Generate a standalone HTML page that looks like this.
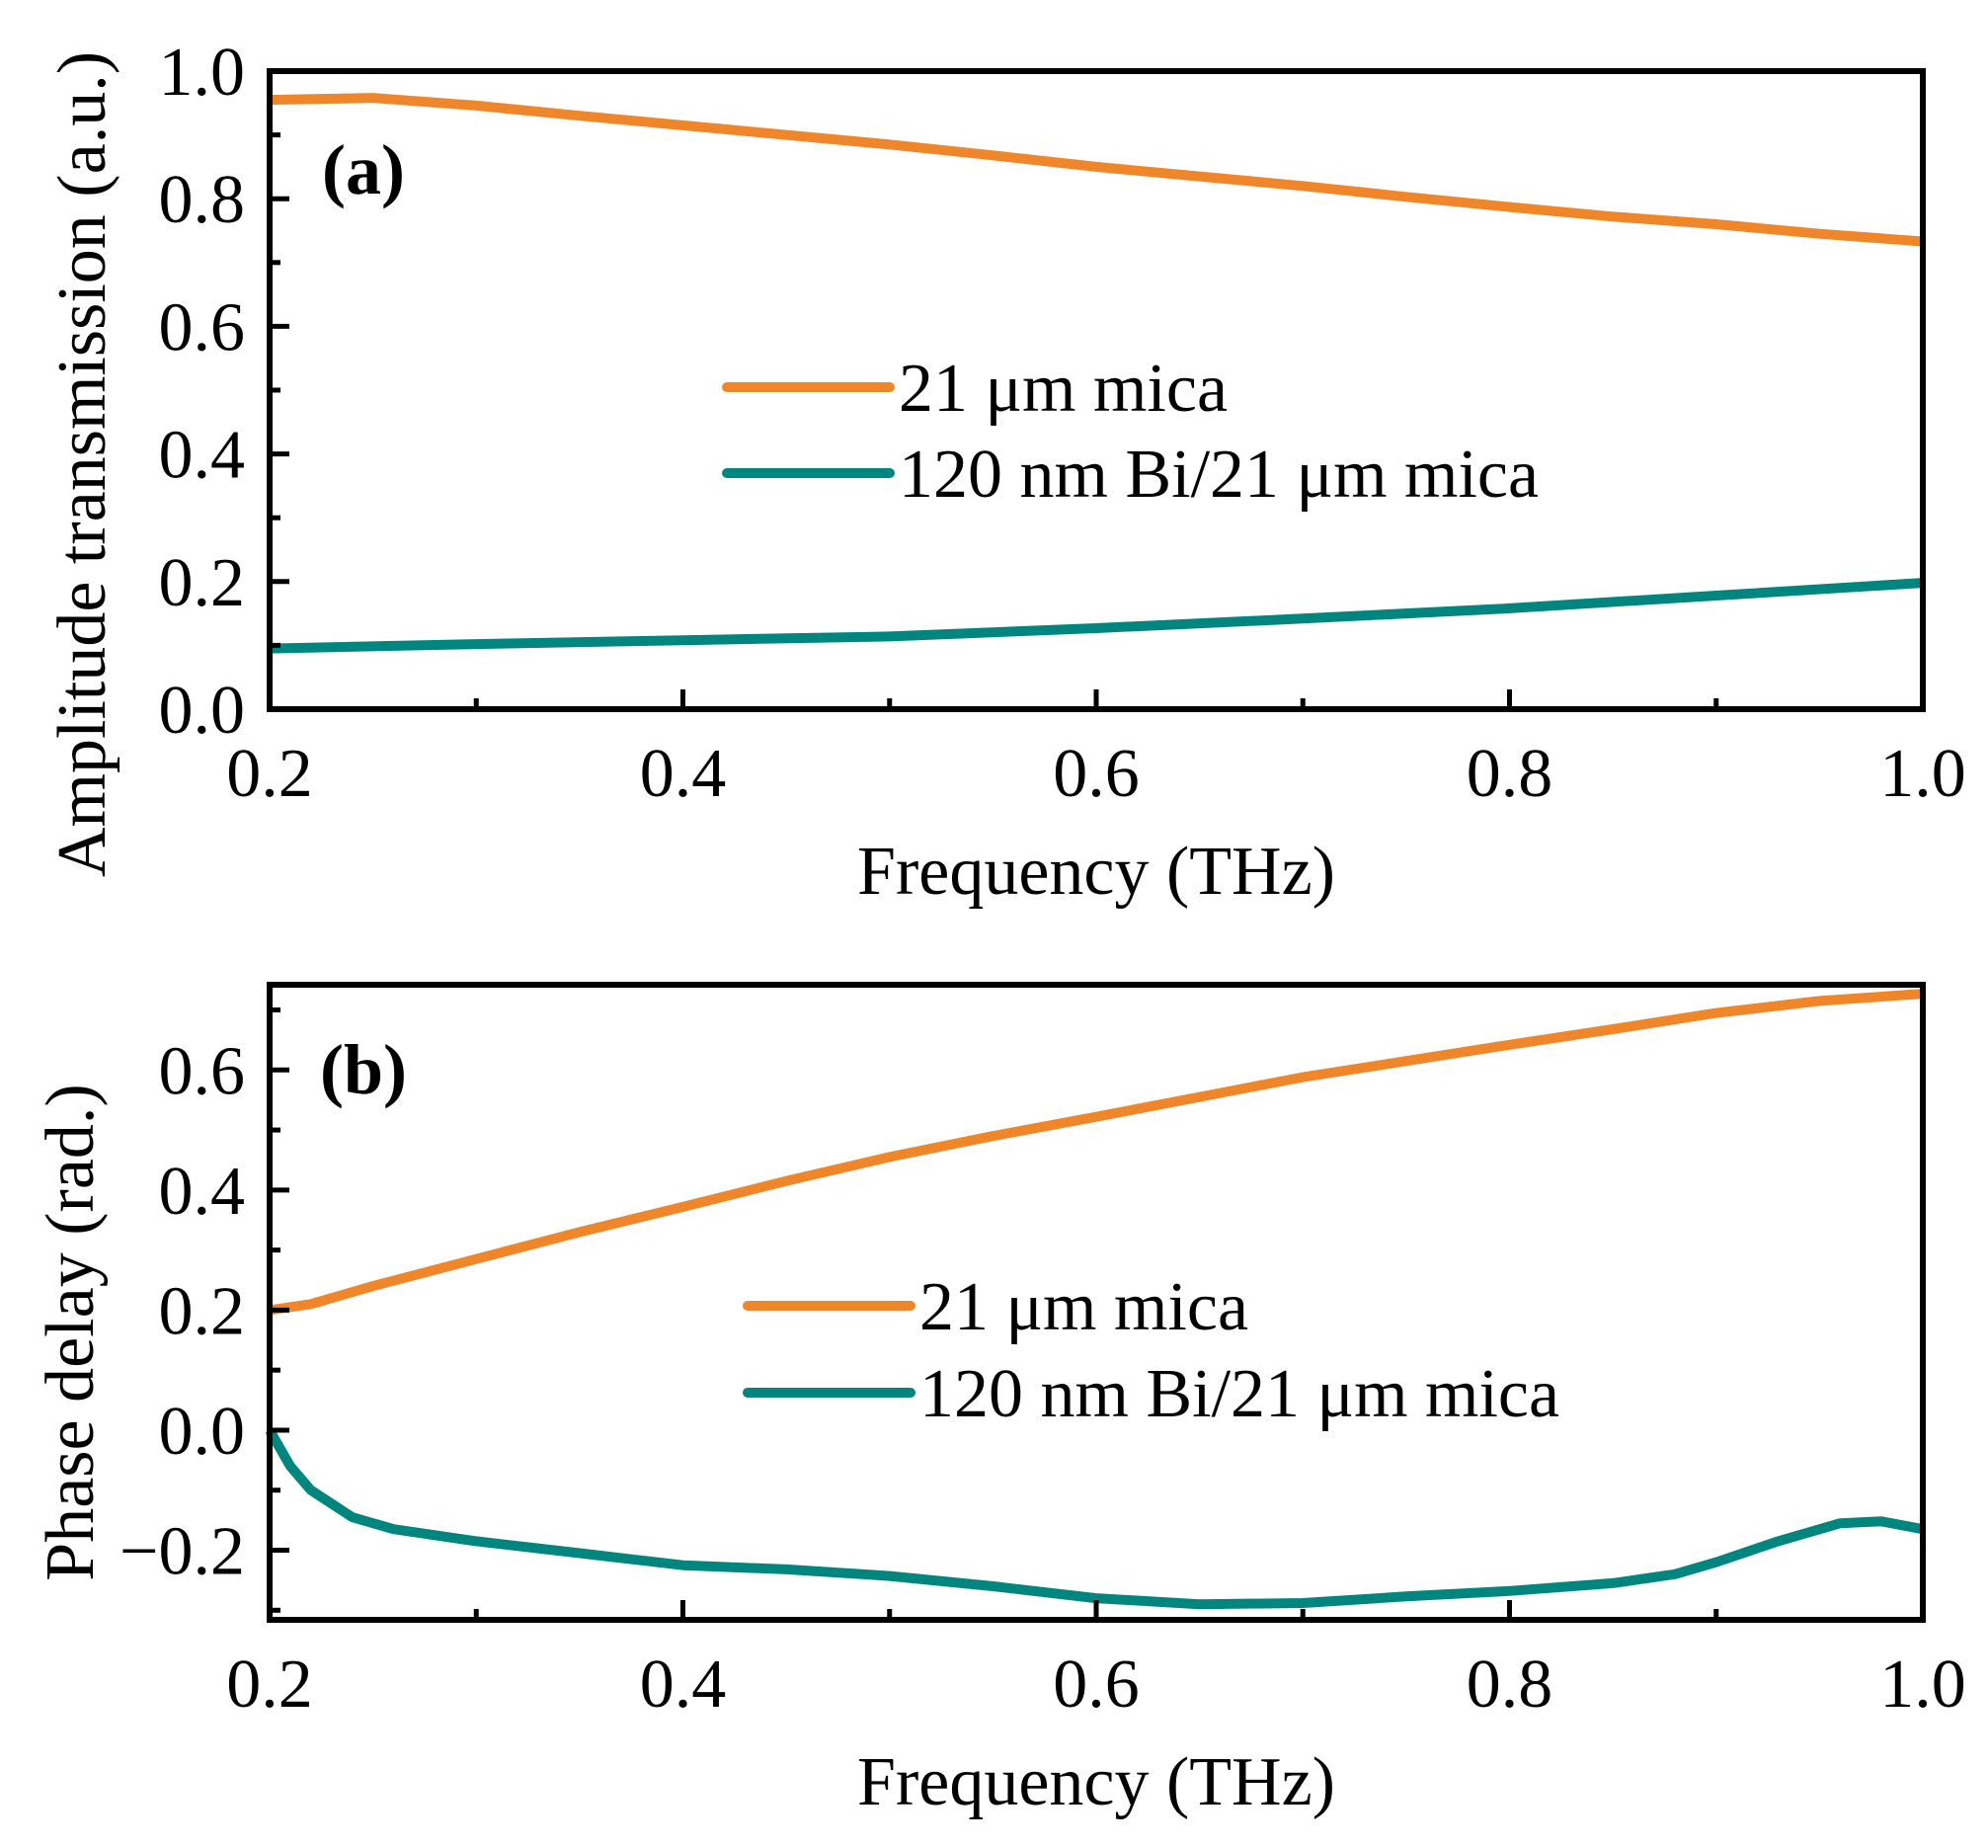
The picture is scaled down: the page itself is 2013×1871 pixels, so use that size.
<!DOCTYPE html>
<html><head><meta charset="utf-8"><style>
html,body{margin:0;padding:0;background:#fff;}
svg{display:block;font-family:"Liberation Serif",serif;}
</style></head><body>
<svg id="chart" width="2013" height="1871" viewBox="0 0 2013 1871" xmlns="http://www.w3.org/2000/svg"></svg>
<script>
const freqA = [0.2,0.25,0.3,0.35,0.4,0.45,0.5,0.55,0.6,0.65,0.7,0.75,0.8,0.85,0.9,0.95,1.0];
const micaAmp = [0.955,0.958,0.946,0.930,0.915,0.900,0.885,0.868,0.850,0.835,0.820,0.803,0.787,0.772,0.760,0.745,0.733];
const freqAT = [0.2,0.3,0.4,0.5,0.6,0.7,0.8,0.9,1.0];
const biAmp = [0.095,0.102,0.108,0.114,0.127,0.142,0.158,0.178,0.198];
const freqB = [0.2,0.22,0.25,0.3,0.35,0.4,0.45,0.5,0.55,0.6,0.65,0.7,0.75,0.8,0.85,0.9,0.95,1.0];
const micaPhase = [0.200,0.210,0.240,0.285,0.330,0.372,0.415,0.455,0.490,0.522,0.555,0.588,0.615,0.642,0.668,0.695,0.715,0.727];
const freqBT = [0.2,0.21,0.22,0.24,0.26,0.3,0.35,0.4,0.45,0.5,0.55,0.6,0.65,0.7,0.75,0.8,0.85,0.88,0.9,0.93,0.96,0.98,1.0];
const biPhase = [0,-0.06,-0.10,-0.145,-0.165,-0.185,-0.205,-0.225,-0.232,-0.243,-0.26,-0.28,-0.29,-0.288,-0.277,-0.268,-0.255,-0.24,-0.22,-0.185,-0.155,-0.152,-0.165];
const xTicks = [0.2,0.4,0.6,0.8,1.0];
const xTickLabels = ["0.2","0.4","0.6","0.8","1.0"];
const xMinor = [0.3,0.5,0.7,0.9];
const yTicksA = [0,0.2,0.4,0.6,0.8,1.0];
const yTickLabelsA = ["0.0","0.2","0.4","0.6","0.8","1.0"];
const yMinorA = [0.1,0.3,0.5,0.7,0.9];
const yTicksB = [-0.2,0,0.2,0.4,0.6];
const yTickLabelsB = ["\u22120.2","0.0","0.2","0.4","0.6"];
const yMinorB = [-0.3,-0.1,0.1,0.3,0.5,0.7];
const legendLabels = ["21 \u03bcm mica","120 nm Bi/21 \u03bcm mica"];

const NS="http://www.w3.org/2000/svg";
const svg=document.getElementById('chart');
const ORANGE="#F0862A", TEAL="#00857F";
function mk(tag,attrs,parent){const e=document.createElementNS(NS,tag);for(const k in attrs)e.setAttribute(k,attrs[k]);(parent||svg).appendChild(e);return e;}
function txt(s,attrs,parent){const e=mk('text',attrs,parent);e.textContent=s;return e;}

function panel(cfg){
  const L=273,R=1947,T=cfg.top,B=cfg.bottom;
  const g=mk('g',{});
  
  
  const xs=v=>L+(v-0.2)/(0.8)*(R-L);
  const ys=v=>B-(v-cfg.ymin)/(cfg.ymax-cfg.ymin)*(B-T);
  cfg.series.forEach(s=>{
    const d=s.x.map((x,i)=>(i?'L':'M')+xs(x).toFixed(1)+','+ys(s.y[i]).toFixed(1)).join(' ');
    const p=mk('path',{d:d,fill:'none',stroke:s.color,'stroke-width':10,'stroke-linejoin':'round'},g);
    
    
  });
  const f=mk('rect',{x:L,y:T,width:R-L,height:B-T,fill:'none',stroke:'#000','stroke-width':6},g);
  
  
  xTicks.forEach((v,i)=>{
    mk('line',{x1:xs(v),x2:xs(v),y1:B,y2:B-20,stroke:'#000','stroke-width':5},g);
    const t=txt(xTickLabels[i],{x:xs(v),y:B+88,'font-size':70,'text-anchor':'middle'},g);
    
    
  });
  xMinor.forEach(v=>mk('line',{x1:xs(v),x2:xs(v),y1:B,y2:B-11,stroke:'#000','stroke-width':5},g));
  cfg.yt.forEach((v,i)=>{
    mk('line',{x1:L,x2:L+20,y1:ys(v),y2:ys(v),stroke:'#000','stroke-width':5},g);
    const t=txt(cfg.ytl[i],{x:248,y:ys(v)+24,'font-size':70,'text-anchor':'end'},g);
    
    
  });
  cfg.ym.forEach(v=>mk('line',{x1:L,x2:L+11,y1:ys(v),y2:ys(v),stroke:'#000','stroke-width':5},g));
  const xt=txt('Frequency (THz)',{x:1110,y:B+187,'font-size':70,'text-anchor':'middle'},g);
  
  
  const yt=txt(cfg.ytitle,{x:0,y:0,'font-size':70,'text-anchor':'middle',transform:`translate(${cfg.ytx},${cfg.yty}) rotate(-90)`},g);
  
  
  const pl=txt(cfg.label,{x:368,y:cfg.labelY,'font-size':72,'font-weight':'bold','text-anchor':'middle'},g);
  
  
  [ORANGE,TEAL].forEach((c,i)=>{
    const ly=cfg.legY+i*cfg.legDy;
    const lg=mk('g',{},g);
    
    
    mk('line',{x1:cfg.legX,x2:cfg.legX+165,y1:ly,y2:ly,stroke:c,'stroke-width':10,'stroke-linecap':'round'},lg);
    txt(legendLabels[i],{x:cfg.legX+174,y:ly+24,'font-size':70},lg);
  });
}
panel({name:'panel-a-amplitude',top:72,bottom:718,ymin:0,ymax:1,yt:yTicksA,ytl:yTickLabelsA,ym:yMinorA,
  ytitle:'Amplitude transmission (a.u.)',ytx:106,yty:470,label:'(a)',labelY:196,legX:736,legY:392,legDy:87,
  series:[{name:'amp-21um-mica',x:freqA,y:micaAmp,color:ORANGE},{name:'amp-bi-mica',x:freqAT,y:biAmp,color:TEAL}]});
panel({name:'panel-b-phase',top:997,bottom:1640,ymin:-0.316,ymax:0.742,yt:yTicksB,ytl:yTickLabelsB,ym:yMinorB,
  ytitle:'Phase delay (rad.)',ytx:94,yty:1349,label:'(b)',labelY:1107,legX:757,legY:1322,legDy:88,
  series:[{name:'phase-21um-mica',x:freqB,y:micaPhase,color:ORANGE},{name:'phase-bi-mica',x:freqBT,y:biPhase,color:TEAL}]});
</script>
</body></html>
